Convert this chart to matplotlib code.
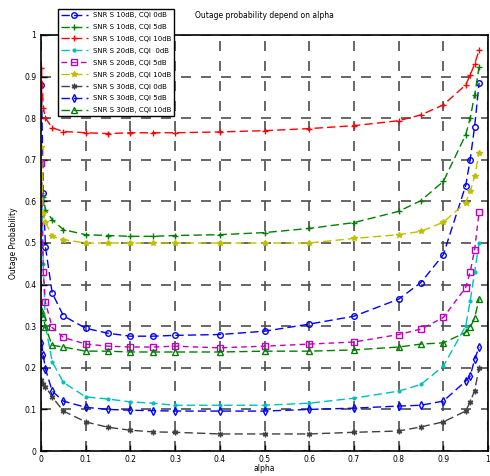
import matplotlib.pyplot as plt

# alpha values (x axis)
alpha = [0.001, 0.005, 0.01, 0.025, 0.05, 0.1, 0.15, 0.2, 0.25, 0.3, 0.4,
         0.5, 0.6, 0.7, 0.8, 0.85, 0.9, 0.95, 0.96, 0.97, 0.98]

# outage probability per series
p_10_0 = [0.88, 0.62, 0.49, 0.38, 0.325, 0.295, 0.283, 0.276, 0.276, 0.278, 0.28,
          0.288, 0.305, 0.324, 0.365, 0.405, 0.472, 0.638, 0.70, 0.78, 0.885]
p_10_5 = [0.62, 0.61, 0.58, 0.556, 0.532, 0.52, 0.518, 0.516, 0.516, 0.518, 0.52,
          0.525, 0.535, 0.549, 0.576, 0.602, 0.648, 0.76, 0.80, 0.856, 0.923]
p_10_10 = [0.92, 0.825, 0.80, 0.777, 0.768, 0.765, 0.763, 0.765, 0.765, 0.765, 0.767,
           0.77, 0.775, 0.782, 0.794, 0.808, 0.832, 0.88, 0.904, 0.93, 0.964]
p_20_0 = [0.66, 0.45, 0.30, 0.215, 0.165, 0.13, 0.125, 0.118, 0.115, 0.11, 0.11,
          0.11, 0.115, 0.127, 0.144, 0.16, 0.204, 0.30, 0.36, 0.43, 0.50]
p_20_5 = [0.693, 0.43, 0.357, 0.297, 0.273, 0.257, 0.252, 0.25, 0.25, 0.252, 0.248,
          0.252, 0.257, 0.262, 0.28, 0.293, 0.321, 0.393, 0.43, 0.484, 0.575]
p_20_10 = [0.73, 0.573, 0.55, 0.516, 0.508, 0.50, 0.50, 0.50, 0.50, 0.50, 0.50,
           0.50, 0.50, 0.511, 0.52, 0.528, 0.55, 0.597, 0.624, 0.66, 0.717]
p_30_0 = [0.17, 0.16, 0.155, 0.13, 0.096, 0.07, 0.057, 0.05, 0.046, 0.045, 0.041,
          0.041, 0.041, 0.045, 0.048, 0.058, 0.07, 0.096, 0.118, 0.145, 0.2]
p_30_5 = [0.26, 0.23, 0.197, 0.144, 0.12, 0.105, 0.1, 0.098, 0.097, 0.096, 0.096,
          0.096, 0.1, 0.103, 0.108, 0.11, 0.12, 0.168, 0.18, 0.22, 0.25]
p_30_10 = [0.34, 0.322, 0.297, 0.254, 0.25, 0.24, 0.24, 0.238, 0.238, 0.238, 0.238,
           0.24, 0.24, 0.243, 0.25, 0.257, 0.26, 0.285, 0.297, 0.32, 0.365]

labels = ['SNR S 10dB, CQI 0dB', 'SNR S 10dB, CQI 5dB', 'SNR S 10dB, CQI 10dB',
          'SNR S 20dB, CQI  0dB', 'SNR S 20dB, CQI 5dB', 'SNR S 20dB, CQI 10dB',
          'SNR S 30dB, CQI 0dB', 'SNR S 30dB, CQI 5dB', 'SNR S 30dB, CQI 10dB']
series = [p_10_0, p_10_5, p_10_10, p_20_0, p_20_5, p_20_10, p_30_0, p_30_5, p_30_10]

colors = ['#0000ff', '#008000', '#ff0000', '#00bfbf', '#bf00bf', '#bfbf00',
          '#404040', '#0000ff', '#008000']
markers = ['o', '+', '+', '.', 's', '*', (6, 2, 0), 'd', '^']
mfc = ['none', None, None, None, 'none', None, None, 'none', 'none']
styles = [(0, (6, 3))] * 9
styles[4] = (0, (4, 3))

fig = plt.figure(figsize=(4.9, 4.76), dpi=100)
ax = fig.add_axes([0.0837, 0.0525, 0.9123, 0.874])

for i in range(9):
    ax.plot(alpha, series[i], color=colors[i], marker=markers[i], markersize=4,
            markerfacecolor=mfc[i] if mfc[i] else colors[i], markeredgewidth=1,
            linestyle=styles[i], linewidth=1, label=labels[i])

ax.set_xlim(0, 1)
ax.set_ylim(0, 1)
ticks = [0, 0.1, 0.2, 0.3, 0.4, 0.5, 0.6, 0.7, 0.8, 0.9, 1]
ticklabels = ['0', '0.1', '0.2', '0.3', '0.4', '0.5', '0.6', '0.7', '0.8', '0.9', '1']
ax.set_xticks(ticks)
ax.set_xticklabels(ticklabels)
ax.set_yticks(ticks)
ax.set_yticklabels(ticklabels)
ax.tick_params(direction='in', labelsize=5.5, length=4, width=1)
ax.tick_params(axis='x', pad=3)
ax.grid(True, color='0.3', linestyle=(0, (6, 6)), linewidth=1.2)
for s in ax.spines.values():
    s.set_linewidth(1.2)

ax.set_title('Outage probability depend on alpha', fontsize=5.5, pad=12)
ax.set_xlabel('alpha', fontsize=5.5, labelpad=0)
ax.set_ylabel('Outage Probability', fontsize=5.5, labelpad=4)

leg = ax.legend(loc='upper left', bbox_to_anchor=(0.031, 1.07), fontsize=5,
                frameon=True, fancybox=False, framealpha=1, edgecolor='black',
                borderpad=0.4, labelspacing=0.85, handlelength=3.8)
leg.get_frame().set_linewidth(1)

fig.savefig('out.png', dpi=100)
